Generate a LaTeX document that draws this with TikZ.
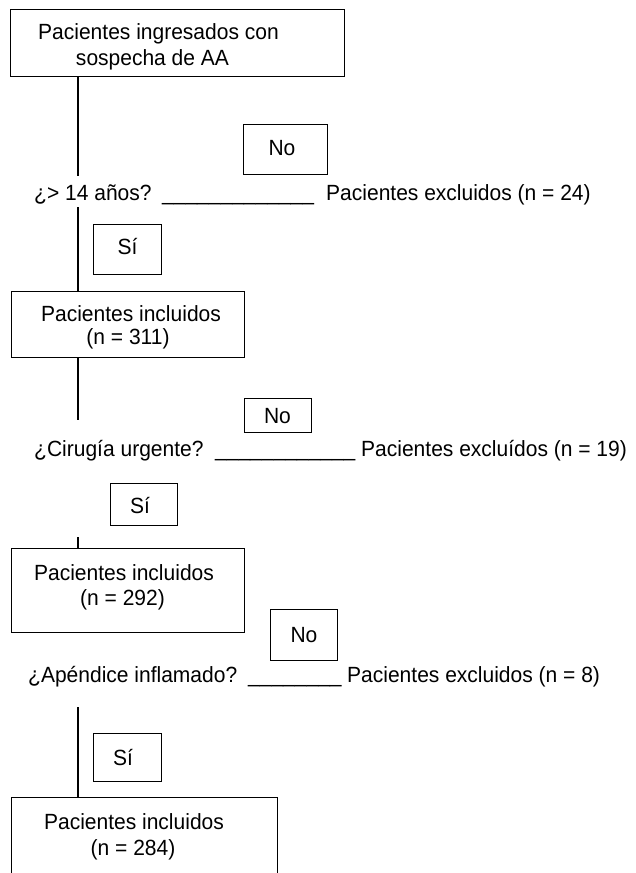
\documentclass[tikz,border=0pt]{standalone}
\usepackage{fontspec}
\setmainfont{Liberation Sans}[FakeStretch=0.955]
\begin{document}
\begin{tikzpicture}[x=1pt,y=-1pt,
  box/.style={draw=black,line width=0.9pt,inner sep=0pt,rectangle},
  txt/.style={inner sep=0pt,font=\fontsize{22}{26}\selectfont},
  conn/.style={draw=black,line width=1.4pt}]
\clip (0,0) rectangle (635,873);
% boxes
\node[box,minimum width=334pt,minimum height=66.5pt] (b1) at (177,42.75) {};
\node[txt,anchor=base] (b1t1) at (158.5,39) {Pacientes ingresados con};
\node[txt,anchor=base] (b1t2) at (152.5,65) {sospecha de AA};

\node[box,minimum width=84pt,minimum height=50pt] (no1) at (285,149) {};
\node[txt,anchor=base] (no1t) at (282,155) {No};
\node[txt,anchor=base west] (q1) at (34,200) {¿> 14 años?};
\node[txt,anchor=base west] (u1) at (162,200) {\_\_\_\_\_\_\_\_\_\_\_\_\_};
\node[txt,anchor=base west] (x1) at (326,200) {Pacientes excluidos (n = 24)};

\node[box,minimum width=68pt,minimum height=50pt] (si1) at (127,249) {};
\node[txt,anchor=base] (si1t) at (127.5,254) {Sí};

\node[box,minimum width=233pt,minimum height=66pt] (b2) at (127.5,324) {};
\node[txt,anchor=base] (b2t1) at (131,321) {Pacientes incluidos};
\node[txt,anchor=base] (b2t2) at (128,344) {(n = 311)};

\node[box,minimum width=67pt,minimum height=34pt] (no2) at (277.5,415) {};
\node[txt,anchor=base] (no2t) at (277.5,423) {No};
\node[txt,anchor=base west] (q2) at (34,456) {¿Cirugía urgente?};
\node[txt,anchor=base west] (u2) at (215,456) {\_\_\_\_\_\_\_\_\_\_\_\_};
\node[txt,anchor=base west] (x2) at (361,456) {Pacientes excluídos (n = 19)};

\node[box,minimum width=67pt,minimum height=42pt] (si2) at (143.5,504) {};
\node[txt,anchor=base] (si2t) at (140,513) {Sí};

\node[box,minimum width=233pt,minimum height=84pt] (b3) at (127.5,590) {};
\node[txt,anchor=base] (b3t1) at (124,580) {Pacientes incluidos};
\node[txt,anchor=base] (b3t2) at (122.5,605) {(n = 292)};

\node[box,minimum width=67pt,minimum height=51pt] (no3) at (303.5,634.5) {};
\node[txt,anchor=base] (no3t) at (304,642) {No};
\node[txt,anchor=base west] (q3) at (28,682) {¿Apéndice inflamado?};
\node[txt,anchor=base west] (u3) at (248,682) {\_\_\_\_\_\_\_\_};
\node[txt,anchor=base west] (x3) at (347,682) {Pacientes excluidos (n = 8)};

\node[box,minimum width=68pt,minimum height=48pt] (si3) at (127,757) {};
\node[txt,anchor=base] (si3t) at (123,765) {Sí};

\node[box,minimum width=266pt,minimum height=103pt] (b4) at (144,848.5) {};
\node[txt,anchor=base] (b4t1) at (134,829) {Pacientes incluidos};
\node[txt,anchor=base] (b4t2) at (133,855) {(n = 284)};

% connectors
\coordinate (l1e) at (78,176);
\coordinate (l2s) at (78,207);
\coordinate (l3e) at (78,420);
\coordinate (l4s) at (78,537);
\coordinate (l5s) at (78,707);
\draw[conn] (l1e |- b1.south) -- (l1e);
\draw[conn] (l2s) -- (l2s |- b2.north);
\draw[conn] (l3e |- b2.south) -- (l3e);
\draw[conn] (l4s) -- (l4s |- b3.north);
\draw[conn] (l5s) -- (l5s |- b4.north);
\end{tikzpicture}
\end{document}
